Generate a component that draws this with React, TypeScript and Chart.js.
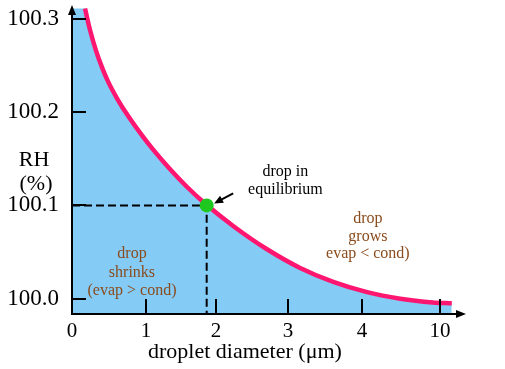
import React, { useEffect, useRef } from "react";
import { Chart, registerables } from "chart.js";
Chart.register(...registerables);

// droplet diameter position (axis units) and equilibrium RH (%)
const curveX = [0.177, 0.245, 0.326, 0.408, 0.489, 0.625, 0.761, 0.951, 1.1, 1.33, 1.56, 1.78, 2.19, 2.65, 3.1, 3.55, 4.01, 4.46, 4.9, 5.16];
const curveRH = [100.311, 100.288, 100.266, 100.248, 100.233, 100.213, 100.196, 100.175, 100.16, 100.139, 100.12, 100.104, 100.078, 100.053, 100.033, 100.018, 100.007, 100.0, 99.996, 99.995];
const xTickPositions = [0, 1.005, 1.957, 2.935, 3.94, 5.0];
const xTickLabels = ["0", "1", "2", "3", "4", "10"];
const yTickValues = [100.0, 100.1, 100.2, 100.3];
const eqX = 1.83;
const eqRH = 100.1;
const xMin = 0;
const xMax = 5.34;
const yMin = 99.9836;
const yMax = 100.3127;

const SERIF = '"Liberation Serif", "Times New Roman", serif';
const BROWN = "#8a4b1c";

const decorPlugin = {
  id: "decor",
  afterDatasetsDraw(chart: any) {
    const { ctx, chartArea, scales } = chart;
    const xs = scales.x;
    const ys = scales.y;
    const L = chartArea.left;
    const B = chartArea.bottom;
    ctx.save();
    ctx.strokeStyle = "#000";
    ctx.fillStyle = "#000";
    ctx.lineWidth = 2;
    // y axis
    ctx.beginPath();
    ctx.moveTo(L, B + 1);
    ctx.lineTo(L, chartArea.top + 6);
    ctx.stroke();
    ctx.beginPath();
    ctx.moveTo(L, chartArea.top - 2);
    ctx.lineTo(L - 4, chartArea.top + 8);
    ctx.lineTo(L + 4, chartArea.top + 8);
    ctx.closePath();
    ctx.fill();
    // x axis
    ctx.beginPath();
    ctx.moveTo(L - 1, B);
    ctx.lineTo(chartArea.right - 6, B);
    ctx.stroke();
    ctx.beginPath();
    ctx.moveTo(chartArea.right + 1, B);
    ctx.lineTo(chartArea.right - 9, B - 4);
    ctx.lineTo(chartArea.right - 9, B + 4);
    ctx.closePath();
    ctx.fill();
    // tick marks (inside)
    ys.ticks.forEach((t: any) => {
      const py = Math.round(ys.getPixelForValue(t.value));
      ctx.beginPath();
      ctx.moveTo(L, py);
      ctx.lineTo(L + 14, py);
      ctx.stroke();
    });
    xs.ticks.forEach((t: any) => {
      if (t.value === 0) return;
      const px = Math.round(xs.getPixelForValue(t.value));
      ctx.beginPath();
      ctx.moveTo(px, B);
      ctx.lineTo(px, B - 15);
      ctx.stroke();
    });
    // arrow to equilibrium point
    const ax0 = xs.getPixelForValue(2.19);
    const ay0 = ys.getPixelForValue(100.113);
    const ax1 = xs.getPixelForValue(1.93);
    const ay1 = ys.getPixelForValue(100.102);
    const ang = Math.atan2(ay1 - ay0, ax1 - ax0);
    ctx.lineWidth = 2;
    ctx.beginPath();
    ctx.moveTo(ax0, ay0);
    ctx.lineTo(ax1 - 5 * Math.cos(ang), ay1 - 5 * Math.sin(ang));
    ctx.stroke();
    ctx.beginPath();
    ctx.moveTo(ax1, ay1);
    ctx.lineTo(ax1 - 9 * Math.cos(ang) + 4 * Math.sin(ang), ay1 - 9 * Math.sin(ang) - 4 * Math.cos(ang));
    ctx.lineTo(ax1 - 9 * Math.cos(ang) - 4 * Math.sin(ang), ay1 - 9 * Math.sin(ang) + 4 * Math.cos(ang));
    ctx.closePath();
    ctx.fill();
    // texts
    ctx.textAlign = "center";
    ctx.textBaseline = "middle";
    ctx.font = `16px ${SERIF}`;
    const tx = xs.getPixelForValue(2.9);
    const ty = ys.getPixelForValue(100.136);
    ctx.fillText("drop in", tx, ty);
    ctx.fillText("equilibrium", tx, ty + 18);
    ctx.fillStyle = BROWN;
    const gx = xs.getPixelForValue(4.02);
    const gy = ys.getPixelForValue(100.086);
    ctx.fillText("drop", gx, gy);
    ctx.fillText("grows", gx, gy + 18);
    ctx.fillText("evap < cond)", gx, gy + 35);
    const sx = xs.getPixelForValue(0.815);
    const sy = ys.getPixelForValue(100.048);
    ctx.fillText("drop", sx, sy);
    ctx.fillText("shrinks", sx, sy + 19);
    ctx.fillText("(evap > cond)", sx, sy + 37);
    // axis titles
    ctx.fillStyle = "#000";
    ctx.font = `22px ${SERIF}`;
    ctx.fillText("droplet diameter (\u03bcm)", xs.getPixelForValue(2.35), B + 38);
    const ry = ys.getPixelForValue(100.148);
    ctx.fillText("RH", L - 38, ry);
    ctx.fillText("(%)", L - 36, ry + 24);
    ctx.restore();
  },
};

export default function App() {
  const ref = useRef<HTMLCanvasElement | null>(null);
  useEffect(() => {
    if (!ref.current) return;
    const curve = curveX.map((x, i) => ({ x, y: curveRH[i] }));
    const chart = new Chart(ref.current, {
      type: "line",
      data: {
        datasets: [
          {
            data: [{ x: eqX, y: eqRH }],
            showLine: false,
            pointRadius: 7,
            pointBackgroundColor: "#1ec81e",
            pointBorderWidth: 0,
            order: 0,
          } as any,
          {
            data: curve,
            borderColor: "#ff1670",
            borderWidth: 4.5,
            pointRadius: 0,
            fill: false,
            cubicInterpolationMode: "monotone",
            order: 1,
          },
          {
            data: [
              { x: 0, y: eqRH },
              { x: eqX, y: eqRH },
              { x: eqX, y: yMin },
            ],
            borderColor: "#000",
            borderWidth: 2,
            borderDash: [8, 4],
            pointRadius: 0,
            fill: false,
            order: 2,
          },
          {
            data: [{ x: 0, y: curveRH[0] }, ...curve],
            borderWidth: 0,
            borderColor: "rgba(0,0,0,0)",
            backgroundColor: "#84cbf6",
            pointRadius: 0,
            fill: "start",
            cubicInterpolationMode: "monotone",
            order: 3,
          },
        ],
      },
      options: {
        responsive: false,
        animation: false,
        events: [],
        layout: { padding: { top: 3, right: 40, left: 0, bottom: 0 } },
        plugins: { legend: { display: false }, tooltip: { enabled: false } },
        scales: {
          x: {
            type: "linear",
            min: xMin,
            max: xMax,
            grid: { display: false, drawTicks: false },
            border: { display: false },
            afterBuildTicks: (s: any) => {
              s.ticks = xTickPositions.map((v) => ({ value: v }));
            },
            afterFit: (s: any) => {
              s.height = 55;
              s.paddingLeft = 0;
              s.paddingRight = 0;
            },
            ticks: {
              autoSkip: false,
              maxRotation: 0,
              padding: 5,
              color: "#000",
              font: { family: SERIF, size: 21 },
              callback: (_v: any, i: number) => xTickLabels[i],
            },
          },
          y: {
            type: "linear",
            min: yMin,
            max: yMax,
            grid: { display: false, drawTicks: false },
            border: { display: false },
            afterBuildTicks: (s: any) => {
              s.ticks = yTickValues.map((v) => ({ value: v }));
            },
            afterFit: (s: any) => {
              s.width = 72;
              s.paddingTop = 0;
              s.paddingBottom = 0;
            },
            ticks: {
              padding: 13,
              color: "#000",
              font: { family: SERIF, size: 23 },
              callback: (v: any) => Number(v).toFixed(1),
            },
          },
        },
      },
      plugins: [decorPlugin],
    });
    return () => chart.destroy();
  }, []);
  return (
    <div style={{ position: "absolute", left: 0, top: 0, width: 505, height: 369, background: "#fff" }}>
      <canvas ref={ref} width={505} height={369} />
    </div>
  );
}
